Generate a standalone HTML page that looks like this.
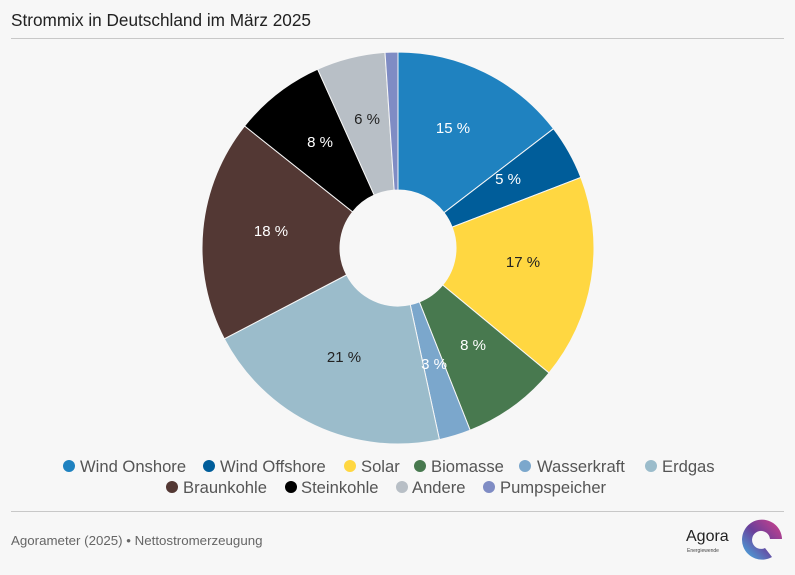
<!DOCTYPE html>
<html><head><meta charset="utf-8"><style>
body{margin:0;background:#f7f7f7;}
svg{display:block;font-family:"Liberation Sans",sans-serif;}
</style></head><body>
<svg id="s" width="795" height="575" viewBox="0 0 795 575">
<rect width="795" height="575" fill="#f7f7f7"/>
<text x="11" y="26" font-size="17.2" fill="#222">Strommix in Deutschland im März 2025</text>
<line x1="11" y1="38.5" x2="784" y2="38.5" stroke="#c8c8c8"/>
<g id="pie"></g>
<g font-size="15" text-anchor="middle" dominant-baseline="middle">
<text x="453" y="129" fill="#fff">15 %</text>
<text x="508" y="180" fill="#fff">5 %</text>
<text x="523" y="263" fill="#222">17 %</text>
<text x="473" y="346" fill="#fff">8 %</text>
<text x="434" y="365" fill="#fff">3 %</text>
<text x="344" y="358" fill="#222">21 %</text>
<text x="271" y="232" fill="#fff">18 %</text>
<text x="320" y="143" fill="#fff">8 %</text>
<text x="367" y="120" fill="#222">6 %</text>
</g>
<g font-size="16.6" fill="#555">
<circle cx="69" cy="466" r="6" fill="#1f82c0"/><text x="80" y="472">Wind Onshore</text>
<circle cx="209" cy="466" r="6" fill="#005d9a"/><text x="220" y="472">Wind Offshore</text>
<circle cx="350" cy="466" r="6" fill="#ffd741"/><text x="361" y="472">Solar</text>
<circle cx="420" cy="466" r="6" fill="#48794f"/><text x="431" y="472">Biomasse</text>
<circle cx="525" cy="466" r="6" fill="#7ba7cc"/><text x="537" y="472">Wasserkraft</text>
<circle cx="651" cy="466" r="6" fill="#9bbccb"/><text x="662" y="472">Erdgas</text>
<circle cx="172" cy="487" r="6" fill="#533834"/><text x="183" y="493">Braunkohle</text>
<circle cx="291" cy="487" r="6" fill="#000"/><text x="301" y="493">Steinkohle</text>
<circle cx="402" cy="487" r="6" fill="#b8bfc6"/><text x="412" y="493">Andere</text>
<circle cx="489" cy="487" r="6" fill="#7f8cc4"/><text x="500" y="493">Pumpspeicher</text>
</g>
<line x1="11" y1="511.5" x2="784" y2="511.5" stroke="#c8c8c8"/>
<text x="11" y="545" font-size="13.3" fill="#666">Agorameter (2025) • Nettostromerzeugung</text>
<text x="686" y="541" font-size="16" fill="#222">Agora</text>
<text x="687" y="552" font-size="5" fill="#444">Energiewende</text>
<defs><linearGradient id="lg" x1="1" y1="0" x2="0" y2="1"><stop offset="0" stop-color="#d6408a"/><stop offset="0.5" stop-color="#6a3f9a"/><stop offset="1" stop-color="#45b5e6"/></linearGradient></defs>
<path d="M782 539 A20 20 0 1 0 772 557 L765 548 A9 9 0 1 1 770 539 Z" fill="url(#lg)"/>
</svg>
<script>
var cx=398,cy=248,R=196,r=58;
var d=[[0,52.5,"#1f82c0"],[52.5,68.9,"#005d9a"],[68.9,129.6,"#ffd741"],[129.6,158.4,"#48794f"],[158.4,167.8,"#7ba7cc"],[167.8,242.4,"#9bbccb"],[242.4,308.5,"#533834"],[308.5,335.8,"#000000"],[335.8,356.2,"#b8bfc6"],[356.2,360,"#7f8cc4"]];
function p(a,rad){a=a*Math.PI/180;return (cx+rad*Math.sin(a)).toFixed(2)+" "+(cy-rad*Math.cos(a)).toFixed(2);}
var g=document.getElementById("pie"),h="";
d.forEach(function(s){var l=(s[1]-s[0])>180?1:0;
h+='<path d="M'+p(s[0],R)+' A'+R+' '+R+' 0 '+l+' 1 '+p(s[1],R)+' L'+p(s[1],r)+' A'+r+' '+r+' 0 '+l+' 0 '+p(s[0],r)+' Z" fill="'+s[2]+'" stroke="#f7f7f7" stroke-width="1"/>';});
g.innerHTML=h;
</script>
</body></html>
